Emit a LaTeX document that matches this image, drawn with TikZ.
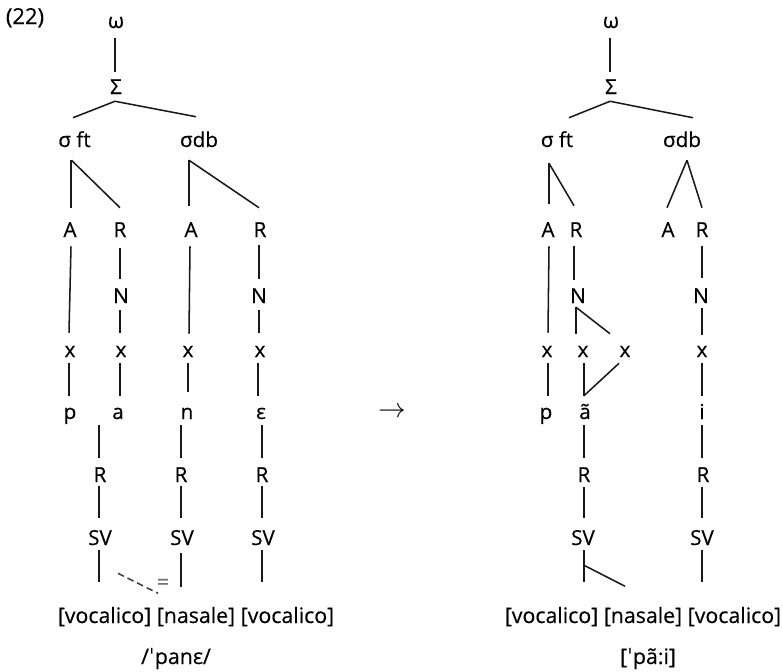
\documentclass[tikz,border=0pt]{standalone}
\usepackage{fontspec}
\setmainfont{Open Sans}[FakeBold=0.4]
\newfontfamily\ipafont{DejaVu Sans}
\usetikzlibrary{calc}
\newcommand{\stress}{{\ipafont ˈ}}
\begin{document}
\begin{tikzpicture}[x=0.75pt,y=-0.75pt,
  lbl/.style={inner sep=0pt,anchor=base,text height=10.5pt,text depth=0pt,
              font=\fontsize{15.5}{15.5}\selectfont,text=black},
  feat/.style={inner sep=0pt,anchor=base,font=\fontsize{16}{16}\selectfont,text=black},
  lnk/.style={line width=1.15pt,draw=black!90},
  cut/.style={line width=1.2pt,draw=black!75,dash pattern=on 5pt off 3pt}]
\useasboundingbox (0,0) rectangle (783,672);

% example number and the arrow between the two structures
\node[feat,font=\fontsize{16.5}{16.5}\selectfont] (num) at (25,24) {(22)};
\node[inner sep=0pt,font=\fontsize{20}{20}\selectfont] (arr) at (392,412) {$\rightarrow$};

% ---------------- left structure: /'pane/ ----------------
\node[lbl] (om1) at (116,28) {ω};
\node[lbl] (S1) at (116,94) {Σ};
\node[lbl] (sft1) at (74.5,147) {σ ft};
\node[lbl] (sdb1) at (199,147) {σdb};
\node[lbl] (A1) at (70,237) {A};
\node[lbl] (R1) at (120,237) {R};
\node[lbl] (A2) at (191,237) {A};
\node[lbl] (R2) at (260,237) {R};
\node[lbl] (N1) at (121,303) {N};
\node[lbl] (N2) at (259,303) {N};
\node[lbl] (x1) at (70,357) {x};
\node[lbl] (x2) at (121,357) {x};
\node[lbl] (x3) at (188,357) {x};
\node[lbl] (x4) at (260,357) {x};
\node[lbl] (p1) at (70,419) {p};
\node[lbl] (a1) at (118,419) {a};
\node[lbl] (n1) at (187,419) {n};
\node[lbl] (e1) at (261,419) {ε};
\node[lbl] (Rr1) at (100,482) {R};
\node[lbl] (Rr2) at (181,482) {R};
\node[lbl] (Rr3) at (262,482) {R};
\node[lbl] (SV1) at (100,545) {SV};
\node[lbl] (SV2) at (182,545) {SV};
\node[lbl] (SV3) at (263,545) {SV};
\node[feat] (feat1) at (196,623) {[vocalico] [nasale] [vocalico]};
\node[feat] (tr1) at (176,664) {/\stress panε/};
\node[inner sep=0pt,font=\fontsize{16}{16}\selectfont,text=black!55] (eq1) at (163,584) {=};

\draw[lnk] ($(om1.south)+(-1,10)$) -- ($(S1.north)+(-1,-8)$);
\draw[lnk] ($(S1.south)+(-1,7)$) -- ($(sft1.north)+(-1.5,-15)$);
\draw[lnk] ($(S1.south)+(-1,7)$) -- ($(sdb1.north)+(-3,-16)$);
\draw[lnk] ($(sft1.south)+(-3.5,13)$) -- ($(A1.north)+(1,-15)$);
\draw[lnk] ($(sft1.south)+(-3,13)$) -- ($(R1.north)+(0,-15)$);
\draw[lnk] ($(sdb1.south)+(-10,13)$) -- ($(A2.north)+(-2,-17)$);
\draw[lnk] ($(sdb1.south)+(-10,13)$) -- ($(R2.north)+(-1,-15)$);
\draw[lnk] ($(A1.south)+(1,9)$) -- ($(x1.north)+(-1,-10)$);
\draw[lnk] ($(R1.south)+(0,11)$) -- ($(N1.north)+(-1,-10)$);
\draw[lnk] ($(N1.south)+(-1,7)$) -- ($(x2.north)+(-1,-10)$);
\draw[lnk] ($(A2.south)+(-1,9)$) -- ($(x3.north)+(1,-9)$);
\draw[lnk] ($(R2.south)+(-1,8)$) -- ($(N2.north)+(0,-10)$);
\draw[lnk] ($(N2.south)+(0,7)$) -- ($(x4.north)+(-1,-10)$);
\draw[lnk] ($(x1.south)+(-1,6)$) -- ($(p1.north)+(-1,-9)$);
\draw[lnk] ($(x2.south)+(-1,6)$) -- ($(a1.north)+(2,-9)$);
\draw[lnk] ($(x3.south)+(0,6)$) -- ($(n1.north)+(1,-13)$);
\draw[lnk] ($(x4.south)+(-2,6)$) -- ($(e1.north)+(-3,-9)$);
% melodic tiers
\draw[lnk] ($(a1.south)+(-19,6)$) -- ($(Rr1.north)+(-1,-10)$);
\draw[lnk] ($(Rr1.south)+(-1,4)$) -- ($(SV1.north)+(-1,-13)$);
\draw[lnk] ($(SV1.south)+(-1,5)$) -- ++(0,32);
\draw[lnk] ($(n1.south)+(-6,6)$) -- ($(Rr2.north)+(0,-10)$);
\draw[lnk] ($(Rr2.south)+(0,4)$) -- ($(SV2.north)+(-1,-13)$);
\draw[lnk] ($(SV2.south)+(-1,8)$) -- ++(0,34);
\draw[lnk] ($(e1.south)+(1,6)$) -- ($(Rr3.north)+(0,-10)$);
\draw[lnk] ($(Rr3.south)+(0,4)$) -- ($(SV3.north)+(-1,-13)$);
\draw[lnk] ($(SV3.south)+(-1,5)$) -- ++(0,32);
\draw[cut] ($(SV1.south)+(18,28)$) -- ($(SV2.south)+(-24,48)$);

% ---------------- right structure: ['pã:i] ----------------
\node[lbl] (om2) at (611,28) {ω};
\node[lbl] (S2) at (611,94) {Σ};
\node[lbl] (sft2) at (557,147) {σ ft};
\node[lbl] (sdb2) at (682,147) {σdb};
\node[lbl] (A3) at (548,237) {A};
\node[lbl] (R3) at (576,237) {R};
\node[lbl] (A4) at (668,237) {A};
\node[lbl] (R4) at (702,237) {R};
\node[lbl] (N3) at (578,303) {N};
\node[lbl] (N4) at (701,303) {N};
\node[lbl] (x5) at (547,357) {x};
\node[lbl] (x6) at (583,357) {x};
\node[lbl] (x7) at (625,357) {x};
\node[lbl] (x8) at (702,357) {x};
\node[lbl] (p2) at (546,419) {p};
\node[lbl] (at2) at (585,419) {ã};
\node[lbl] (i2) at (702,419) {i};
\node[lbl] (Rr4) at (584,482) {R};
\node[lbl] (Rr5) at (703,482) {R};
\node[lbl] (SV4) at (583,545) {SV};
\node[lbl] (SV5) at (702,545) {SV};
\node[feat] (feat2) at (643,623) {[vocalico] [nasale] [vocalico]};
\node[feat] (tr2) at (648,664) {[\stress pã:i]};

\draw[lnk] ($(om2.south)+(-1,10)$) -- ($(S2.north)+(-1,-8)$);
\draw[lnk] ($(S2.south)+(-1,7)$) -- ($(sft2.north)+(12,-15)$);
\draw[lnk] ($(S2.south)+(-1,7)$) -- ($(sdb2.north)+(11,-15)$);
\draw[lnk] ($(sft2.south)+(-8,16)$) -- ($(A3.north)+(1,-19)$);
\draw[lnk] ($(sft2.south)+(-8,16)$) -- ($(R3.north)+(-2,-17)$);
\draw[lnk] ($(sdb2.south)+(5,13)$) -- ($(A4.north)+(-1,-15)$);
\draw[lnk] ($(sdb2.south)+(5,13)$) -- ($(R4.north)+(0,-15)$);
\draw[lnk] ($(A3.south)+(1,9)$) -- ($(x5.north)+(1,-10)$);
\draw[lnk] ($(R3.south)+(-2,9)$) -- ($(N3.north)+(-4,-9)$);
\draw[lnk] ($(N3.south)+(-2,4)$) -- ($(x6.north)+(-7,-9)$);
\draw[lnk] ($(N3.south)+(-2,4)$) -- ($(x7.north)+(-15,-9)$);
\draw[lnk] ($(R4.south)+(0,9)$) -- ($(N4.north)+(1,-11)$);
\draw[lnk] ($(N4.south)+(1,5)$) -- ($(x8.north)+(0,-8)$);
\draw[lnk] ($(x5.south)+(1,6)$) -- ($(p2.north)+(2,-9)$);
\draw[lnk] ($(x6.south)+(1,6)$) -- ($(at2.north)+(-1,-9)$);
\draw[lnk] ($(x7.south)+(-6,6)$) -- ($(at2.north)+(-1,-9)$);
\draw[lnk] ($(x8.south)+(0,6)$) -- ($(i2.north)+(0,-9)$);
% melodic tiers
\draw[lnk] ($(at2.south)+(-1,6)$) -- ($(Rr4.north)+(0,-10)$);
\draw[lnk] ($(Rr4.south)+(0,5)$) -- ($(SV4.north)+(1,-13)$);
\draw[lnk] ($(SV4.south)+(1,5)$) -- ++(0,32);
\draw[lnk] ($(SV4.south)+(1,20)$) -- ++(41,21);
\draw[lnk] ($(i2.south)+(0,6)$) -- ($(Rr5.north)+(-1,-10)$);
\draw[lnk] ($(Rr5.south)+(-1,5)$) -- ($(SV5.north)+(0,-13)$);
\draw[lnk] ($(SV5.south)+(0,5)$) -- ++(0,32);
\end{tikzpicture}
\end{document}
